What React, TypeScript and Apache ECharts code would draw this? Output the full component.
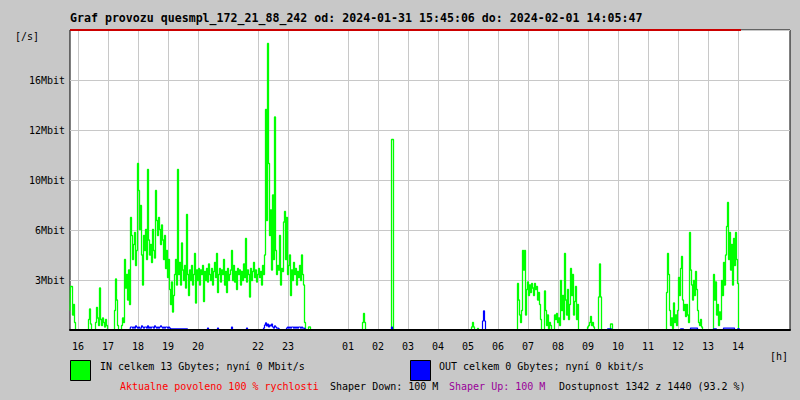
import React, { useEffect, useRef } from "react";
import * as echarts from "echarts";

// ---- data (Mbit/s, one sample every 2 minutes, first sample 15:44) ----
const START_TIME = "15:44";
const NOW_TIME = "14:06";
const SAMPLE_MIN = 2;
const SAMPLE_COUNT = 721;

const hourLabels = ["16", "17", "18", "19", "20", "22", "23", "01", "02", "03", "04", "05", "06", "07", "08", "09", "10", "11", "12", "13", "14"];
const yTickLabels = ["", "3Mbit", "6Mbit", "10Mbit", "12Mbit", "16Mbit", ""];
const yMaxMbit = 20;
const shaperMbit = 100;

// IN (green) segments
const inA = [1.3, 2.9, 2.9, 1.0, 1.7, 0.5, 0];
const inB = [0, 0.7, 1.4, 0.4, 0];
const inC = [0, 0.5, 1.5, 0.8, 0.3, 2.8, 0.7, 0.3, 0.8, 0.5, 0.2, 0.7, 0.3, 0];
const inD = [0, 1.3, 3.4, 2.0, 0.3, 0];
const inE = [
  0.3, 0.8, 0.5, 4.7, 2.8, 3.7, 2.0, 4.0, 1.7, 7.5,
  6.3, 4.7, 5.7, 6.5, 4.3, 5.3, 11.1, 9.3, 6.7, 8.3,
  5.0, 3.0, 6.3, 5.3, 6.7, 4.7, 10.7, 6.0, 5.0, 5.7,
  4.5, 6.7, 5.3, 4.8, 9.3, 7.3, 6.3, 7.5, 6.7, 5.7,
  7.0, 6.0, 4.7, 6.3, 4.1, 5.3, 3.5, 4.7, 2.7, 1.7,
  3.2, 1.2, 2.3, 3.7, 4.7, 3.0, 10.7, 3.7, 4.5, 3.0,
  5.8, 4.0, 3.3, 4.3, 2.8, 7.7, 3.7, 2.3, 4.0, 3.3,
  4.3, 3.0, 3.7, 5.1, 1.8, 4.0, 3.3, 4.1, 3.0, 4.0,
  3.7, 4.3, 1.9, 3.9, 3.3, 4.1, 3.2, 4.4, 3.7, 3.3,
  4.1, 3.0, 3.9, 4.5, 3.5, 5.1, 2.5, 3.7, 4.1, 3.2,
  4.0, 3.7, 4.7, 3.0, 3.9, 2.5, 4.1, 3.3, 3.7, 4.0,
  5.3, 3.3, 4.3, 3.2, 3.9, 2.7, 4.1, 3.7, 4.0, 3.0,
  3.9, 3.3, 4.4, 3.5, 6.1, 3.2, 4.0, 3.7, 2.2, 4.1,
  3.3, 3.9, 4.5, 3.5, 4.0, 3.2, 3.7, 4.1, 3.5, 3.9,
  3.0, 4.3, 3.7, 5.0, 14.7, 7.3, 19.1, 11.1, 6.3, 8.0,
  4.0, 9.0, 4.7, 14.2, 5.3, 3.7, 4.3, 4.0, 6.3, 3.0,
  4.1, 3.9, 7.2, 7.9, 4.7, 7.5, 3.7, 4.3, 5.0, 2.3,
  4.0, 3.3, 4.5, 3.7, 4.1, 3.0, 3.9, 3.5, 4.3, 3.3,
  5.0, 3.7, 3.0, 0.5, 0, 0, 0, 0.2, 0.2, 0,
];
const inF = [0, 0.5, 1.1, 0.5, 0];
const inG = [0, 12.7, 12.7, 0];
const inH = [0, 0.2, 0.5, 0.2, 0];
const inI = [0, 0.1, 0];
const inJ = [
  0, 3.1, 2.0, 1.0, 0.5, 1.3, 5.3, 4.0, 5.3, 1.0,
  2.7, 3.2, 2.3, 3.0, 2.5, 3.1, 2.8, 2.3, 3.1, 2.7,
  2.9, 2.0, 2.5, 1.7, 0.7, 0, 0, 0, 2.6, 1.3,
  0.3, 1.0, 0, 0.5, 0.3, 0, 0, 0, 1.0, 0.7,
  1.1, 0.5, 0.8, 0.3, 3.3, 1.3, 2.3, 0.7, 5.1, 2.0,
  1.0, 2.7, 0.7, 1.7, 4.1, 2.3, 3.7, 1.0, 1.9, 2.9,
  0.7, 1.7, 0,
];
const inK = [0.2, 0.3, 0.5, 0.9, 0.3, 0.5, 0.2, 0];
const inL = [2.2, 4.4, 2.2, 0];
const inM = [0.4, 0.4, 0];
const inN = [
  0, 2.5, 5.1, 3.7, 1.3, 0.3, 0.8, 0.1, 1.8, 0.5,
  1.0, 0.3, 1.3, 3.5, 2.3, 4.1, 4.9, 2.0, 1.3, 1.7,
  0.9, 1.7, 1.0, 0.5, 6.5, 4.0, 3.0, 2.0, 3.3, 2.3,
  3.9, 2.7, 1.3, 0.5, 0.3, 0.7, 0.2, 0,
];
const inO = [
  0, 3.7, 2.0, 3.2, 1.0, 1.7, 0.3, 1.2, 0.7, 3.3,
  2.3, 4.5, 3.0, 5.0, 6.9, 8.5, 4.7, 6.5, 4.0, 5.7,
  3.0, 6.1, 4.3, 6.5, 4.7, 3.1, 0,
];
const inSegments: [string, number[]][] = [
  ["15:44", inA], ["16:20", inB], ["16:34", inC], ["17:12", inD], ["17:28", inE],
  ["01:28", inF], ["02:26", inG], ["05:06", inH], ["05:18", inI], ["06:38", inJ],
  ["09:00", inK], ["09:22", inL], ["09:46", inM], ["11:36", inN], ["13:10", inO],
];

// OUT (blue) segments
const outA = [
  0.2, 0.2, 0.13, 0.2, 0.13, 0.27, 0.2, 0.13, 0.2, 0.13,
  0.13, 0.27, 0.2, 0.13, 0.2, 0.2, 0.13, 0.27, 0.13, 0.2,
  0.13, 0.2, 0.2, 0.13, 0.27, 0.2, 0.13, 0.2, 0.13, 0.2,
  0.27, 0.2, 0.13, 0.2, 0.13, 0.2, 0.2, 0.13, 0.2, 0.13,
];
const outB = [0.07, 0.07, 0.07, 0.07, 0.07, 0.07, 0.07, 0.07, 0.07, 0.07, 0.07, 0.07, 0.07, 0.07, 0.07, 0.07, 0.07];
const outC = [0.13];
const outD = [0.13];
const outE = [0.2];
const outF = [0.13];
const outG = [0.13, 0.33, 0.47, 0.27, 0.4, 0.2, 0.33, 0.27, 0.4, 0.2, 0.13, 0.27, 0.2, 0.13, 0.13, 0.07];
const outH = [0.13, 0.2, 0.13, 0.2, 0.13, 0.2, 0.2, 0.13, 0.2, 0.13, 0.2, 0.13, 0.2, 0.2, 0.13, 0.2, 0.13, 0.13, 0.07];
const outI = [0.2];
const outJ = [0.6, 1.27, 0.6];
const outK = [0.07, 0.07, 0.07, 0.07];
const outL = [0.07, 0.07, 0.07];
const outM = [0.13, 0.13, 0.13, 0.13, 0.13, 0.13, 0.13];
const outN = [0.07, 0.07, 0.07];
const outO = [0.13, 0.13, 0.13, 0.13, 0.13, 0.13, 0.13, 0.13, 0.13, 0.13, 0.13];
const outP = [0.07, 0.07];
const outSegments: [string, number[]][] = [
  ["17:46", outA], ["19:06", outB], ["20:20", outC], ["20:40", outD], ["21:08", outE],
  ["21:38", outF], ["22:12", outG], ["22:58", outH], ["02:28", outI], ["05:30", outJ],
  ["09:40", outK], ["12:06", outL], ["12:26", outM], ["13:12", outN], ["13:32", outO], ["14:00", outP],
];

// ---- helpers ----
const toMin = (t: string) => {
  const [h, m] = t.split(":").map(Number);
  return h * 60 + m;
};
const startMin = toMin(START_TIME);
const timeToIndex = (t: string) => {
  let m = toMin(t);
  if (m < startMin) m += 1440;
  return Math.round((m - startMin) / SAMPLE_MIN);
};
const nowIndex = timeToIndex(NOW_TIME);
const categories: string[] = [];
for (let i = 0; i < SAMPLE_COUNT; i++) {
  const m = (startMin + i * SAMPLE_MIN) % 1440;
  const hh = String(Math.floor(m / 60)).padStart(2, "0");
  const mm = String(m % 60).padStart(2, "0");
  categories.push(hh + ":" + mm);
}
const buildSeries = (segs: [string, number[]][]) => {
  const arr: (number | null)[] = [];
  for (let i = 0; i <= nowIndex; i++) arr.push(0);
  segs.forEach(([t, vals]) => {
    const s = timeToIndex(t);
    vals.forEach((v, k) => {
      if (s + k <= nowIndex) arr[s + k] = v;
    });
  });
  return arr;
};
const inData = buildSeries(inSegments);
const outData = buildSeries(outSegments);
const limitData = inData.map(() => Math.min(shaperMbit, yMaxMbit));

const isHourShown = (idx: number) => {
  const c = categories[idx];
  if (!c || !c.endsWith(":00")) return false;
  return hourLabels.includes(c.slice(0, 2)) && idx <= nowIndex;
};

const FONT = "DejaVu Sans Mono";

export default function App() {
  const ref = useRef<HTMLDivElement>(null);
  useEffect(() => {
    if (!ref.current) return;
    const chart = echarts.init(ref.current, null, { renderer: "svg" });
    const step = yMaxMbit / 6;
    chart.setOption({
      animation: false,
      backgroundColor: "#c8c8c8",
      title: {
        text: "Graf provozu quesmpl_172_21_88_242 od: 2024-01-31 15:45:06 do: 2024-02-01 14:05:47",
        left: 66,
        top: 10,
        padding: [2, 4],
        textStyle: { fontFamily: FONT, fontSize: 11.6, fontWeight: "bold", color: "#000" },
      },
      grid: {
        left: 70, right: 10, top: 30, bottom: 70,
        show: true, backgroundColor: "#ffffff", borderColor: "#000", borderWidth: 1,
      },
      xAxis: [
        {
          type: "category",
          data: categories,
          boundaryGap: false,
          axisLine: { show: false },
          axisTick: { show: false },
          axisLabel: {
            interval: (idx: number) => isHourShown(idx),
            formatter: (v: string) => v.slice(0, 2),
            margin: 11,
            fontFamily: FONT,
            fontSize: 10,
            color: "#000",
          },
          splitLine: {
            show: true,
            interval: (idx: number) => isHourShown(idx),
            lineStyle: { color: "#c8c8c8", width: 1 },
          },
        },
        {
          type: "category",
          data: categories,
          boundaryGap: false,
          position: "bottom",
          z: 10,
          axisLine: { show: true, lineStyle: { color: "#000", width: 2 } },
          axisTick: { show: false },
          axisLabel: { show: false },
          splitLine: { show: false },
        },
      ],
      yAxis: {
        type: "value",
        min: 0,
        max: yMaxMbit,
        interval: step,
        axisLine: { show: false },
        axisTick: { show: false },
        axisLabel: {
          formatter: (v: number) => yTickLabels[Math.round(v / step)] || "",
          margin: 5,
          fontFamily: FONT,
          fontSize: 10,
          color: "#000",
        },
        splitLine: { show: true, lineStyle: { color: "#c8c8c8", width: 1 } },
      },
      series: [
        {
          name: "IN",
          type: "line",
          data: inData,
          symbol: "none",
          step: "middle",
          lineStyle: { color: "#00ff00", width: 1.3 },
          z: 3,
        },
        {
          name: "OUT",
          type: "line",
          data: outData,
          symbol: "none",
          step: "middle",
          lineStyle: { color: "#0000ff", width: 1.2 },
          z: 4,
        },
        {
          name: "limit",
          type: "line",
          data: limitData,
          symbol: "none",
          clip: false,
          lineStyle: { color: "#cc0000", width: 2 },
          z: 5,
        },
      ],
      graphic: [
        { type: "text", left: 15, top: 31, style: { text: "[/s]", font: `10px "${FONT}"`, fill: "#000" } },
        { type: "text", left: 770, top: 351, style: { text: "[h]", font: `10px "${FONT}"`, fill: "#000" } },
        { type: "rect", shape: { x: 70.5, y: 360.5, width: 20, height: 20 }, style: { fill: "#00ff00", stroke: "#000", lineWidth: 1 } },
        { type: "text", left: 100, top: 361, style: { text: "IN celkem 13 Gbytes; nyní 0 Mbit/s", font: `10px "${FONT}"`, fill: "#000" } },
        { type: "rect", shape: { x: 410.5, y: 360.5, width: 20, height: 20 }, style: { fill: "#0000ff", stroke: "#000", lineWidth: 1 } },
        { type: "text", left: 439, top: 361, style: { text: "OUT celkem 0 Gbytes; nyní 0 kbit/s", font: `10px "${FONT}"`, fill: "#000" } },
        { type: "text", left: 120, top: 381, style: { text: "Aktualne povoleno 100 % rychlosti", font: `10px "${FONT}"`, fill: "#ff0000" } },
        { type: "text", left: 330, top: 381, style: { text: "Shaper Down: 100 M", font: `10px "${FONT}"`, fill: "#000" } },
        { type: "text", left: 449, top: 381, style: { text: "Shaper Up: 100 M", font: `10px "${FONT}"`, fill: "#990099" } },
        { type: "text", left: 559, top: 381, style: { text: "Dostupnost 1342 z 1440 (93.2 %)", font: `10px "${FONT}"`, fill: "#000" } },
      ],
    });
    return () => chart.dispose();
  }, []);
  return (
    <div
      ref={ref}
      style={{ position: "fixed", left: 0, top: 0, width: 800, height: 400 }}
    />
  );
}
